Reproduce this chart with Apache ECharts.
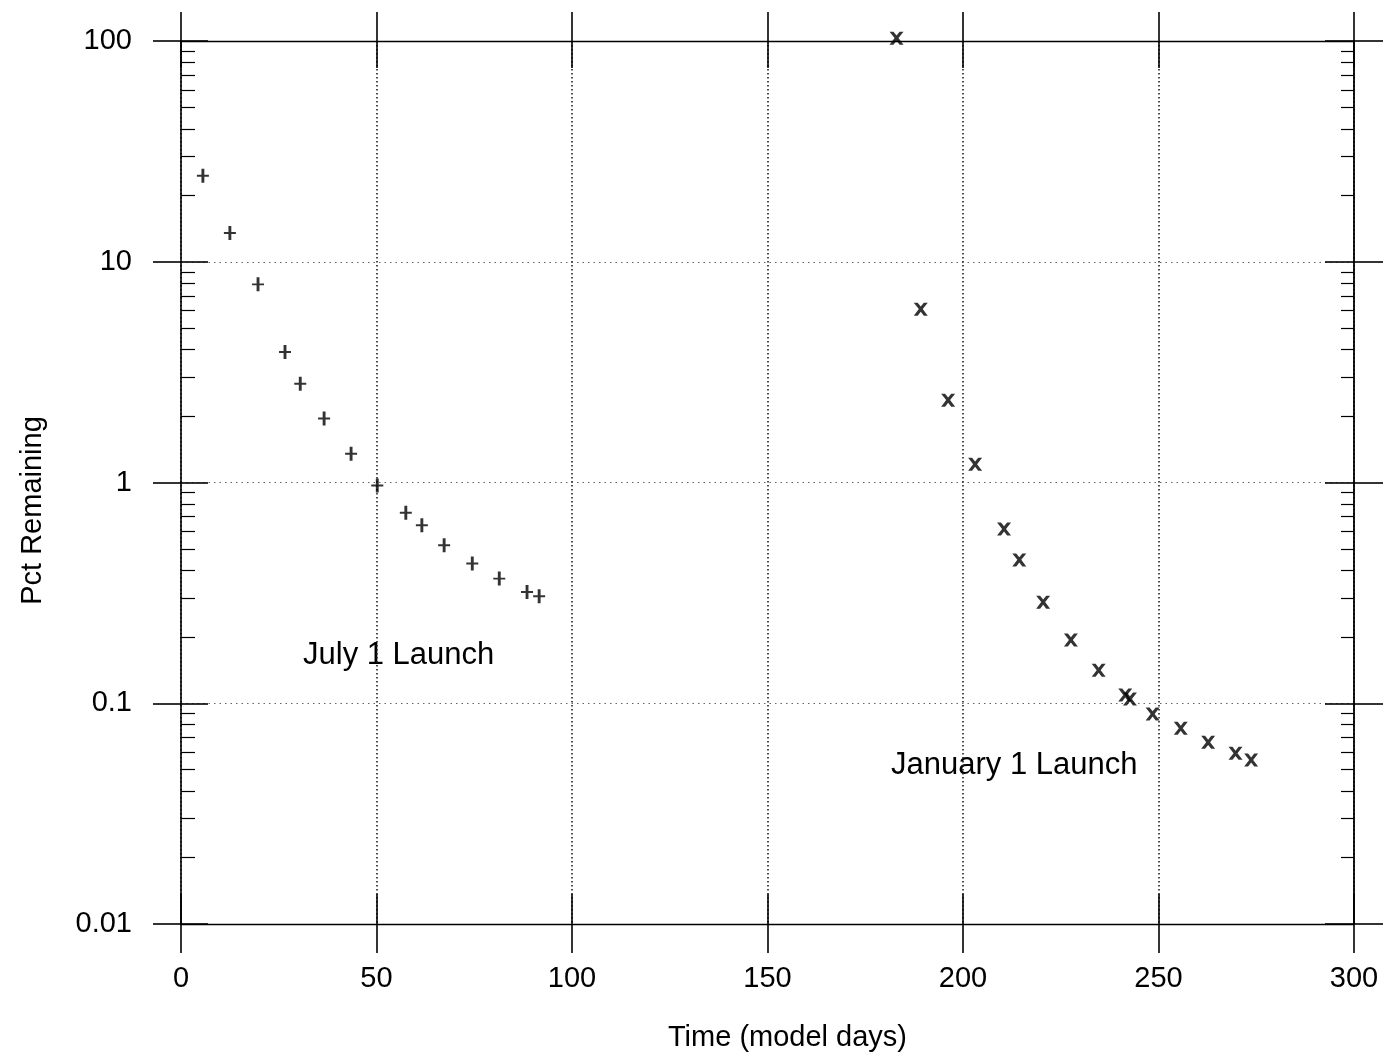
<!DOCTYPE html>
<html>
<head>
<meta charset="utf-8">
<script src="https://cdn.jsdelivr.net/npm/echarts@6/dist/echarts.min.js"></script>
<style>
  html, body { margin: 0; padding: 0; background: #fff; }
  #chart { width: 1393px; height: 1059px; }
</style>
</head>
<body>
<div id="chart"></div>
<script>
// July 1 launch (plus markers)
const julyDays = [5.6, 12.5, 19.7, 26.6, 30.5, 36.6, 43.5, 50.2, 57.5, 61.6, 67.3, 74.5, 81.4, 88.5, 91.6];
const julyPct = [24.5, 13.5, 7.9, 3.9, 2.8, 1.95, 1.35, 0.97, 0.73, 0.64, 0.52, 0.43, 0.367, 0.319, 0.305];

// January 1 launch (cross markers)
const janDays = [183.0, 189.2, 196.2, 203.1, 210.5, 214.4, 220.5, 227.6, 234.7, 241.5, 242.7, 248.5, 255.7, 262.7, 269.7, 273.7];
const janPct = [103, 6.1, 2.36, 1.21, 0.616, 0.446, 0.287, 0.1935, 0.141, 0.109, 0.1045, 0.0894, 0.077, 0.0665, 0.0593, 0.0553];

const xTicks = [0, 50, 100, 150, 200, 250, 300];
const yDecades = [0.01, 0.1, 1, 10, 100];
const minorMult = [2, 3, 4, 5, 6, 7, 8, 9];

// minor tick positions of the log axis (2..9 in each decade)
const yMinor = [];
yDecades.slice(0, -1).forEach(d => minorMult.forEach(m => yMinor.push(+(d * m).toPrecision(3))));

const FONT = '"Liberation Sans", Arial, Helvetica, sans-serif';
const plus = 'path://M-1.2,-6.5 H1.2 V-0.9 H5 V0.9 H1.2 V6.5 H-1.2 V0.9 H-5 V-0.9 H-1.2 Z';
const cross = 'path://M0,0 L2.8,0 L5,2.8 L7.2,0 L10,0 L6.4,4.7 L10,9.5 L7.2,9.5 L5,6.6 L2.8,9.5 L0,9.5 L3.6,4.7 Z';

const chart = echarts.init(document.getElementById('chart'));

function xAx(position, inside, len, extra) {
    return Object.assign({
        type: 'value', position: position, min: 0, max: 300, interval: 50, offset: 0,
        axisLine: { show: false, onZero: false },
        axisTick: { show: true, inside: inside, length: len, lineStyle: { color: '#000', width: 1.6 } },
        axisLabel: { show: false },
        splitLine: { show: false }
    }, extra || {});
}
function yAx(position, inside, len, extra) {
    return Object.assign({
        type: 'log', logBase: 10, position: position, min: 0.01, max: 100, offset: 0,
        axisLine: { show: false, onZero: false },
        axisTick: { show: true, inside: inside, length: len, lineStyle: { color: '#000', width: 1.6 } },
        axisLabel: { show: false },
        splitLine: { show: false }
    }, extra || {});
}

const option = {
    backgroundColor: '#fff',
    animation: false,
    grid: { left: 181, right: 39, top: 41, bottom: 135, containLabel: false, outerBoundsMode: 'none' },
    xAxis: [
        xAx('bottom', false, 29, {
            axisLine: { show: true, onZero: false, lineStyle: { color: '#000', width: 1.4 } },
            axisLabel: { show: true, margin: 40, fontFamily: FONT, fontSize: 29, color: '#000',
                customValues: xTicks },
            splitLine: { show: true, lineStyle: { color: '#222', width: 1.6, type: [1.5, 2.5] } },
            name: 'Time (model days)', nameLocation: 'middle', nameGap: 99,
            nameTextStyle: { fontFamily: FONT, fontSize: 29, color: '#000', padding: [0, 0, 0, 40] }
        }),
        xAx('bottom', true, 30),
        xAx('top', false, 29, { axisLine: { show: true, onZero: false, lineStyle: { color: '#000', width: 1.4 } } }),
        xAx('top', true, 27)
    ],
    yAxis: [
        yAx('left', false, 28, {
            axisLine: { show: true, onZero: false, lineStyle: { color: '#000', width: 1.6 } },
            axisLabel: { show: true, margin: 49, fontFamily: FONT, fontSize: 29, color: '#000' },
            splitLine: { show: true, lineStyle: { color: '#666', width: 1, type: [1.5, 4] } },
            name: 'Pct Remaining', nameLocation: 'middle', nameGap: 134, nameRotate: 90,
            nameTextStyle: { fontFamily: FONT, fontSize: 29, color: '#000', padding: [0, 56, 0, 0] }
        }),
        yAx('left', true, 27),
        yAx('left', true, 14, { axisTick: { show: true, inside: true, length: 14, customValues: yMinor,
            lineStyle: { color: '#000', width: 1.2 } } }),
        yAx('right', false, 29, { axisLine: { show: true, onZero: false, lineStyle: { color: '#000', width: 1.8 } } }),
        yAx('right', true, 29),
        yAx('right', true, 13, { axisTick: { show: true, inside: true, length: 13, customValues: yMinor,
            lineStyle: { color: '#000', width: 1.2 } } })
    ],
    graphic: [
        { type: 'text', left: 303, top: 640, style: { text: 'July 1 Launch', font: '31px ' + FONT, fill: '#000' } },
        { type: 'text', left: 891, top: 750, style: { text: 'January 1 Launch', font: '31px ' + FONT, fill: '#000' } }
    ],
    series: [
        {
            name: 'July 1 Launch', type: 'scatter', xAxisIndex: 0, yAxisIndex: 0, clip: false,
            symbol: plus, symbolSize: [12, 14],
            itemStyle: { color: '#000' },
            data: julyDays.map((d, i) => [d, julyPct[i]])
        },
        {
            name: 'January 1 Launch', type: 'scatter', xAxisIndex: 0, yAxisIndex: 0, clip: false,
            symbol: cross, symbolSize: [14, 13],
            itemStyle: { color: '#000' },
            data: janDays.map((d, i) => [d, janPct[i]])
        }
    ]
};

chart.setOption(option);
</script>
</body>
</html>
